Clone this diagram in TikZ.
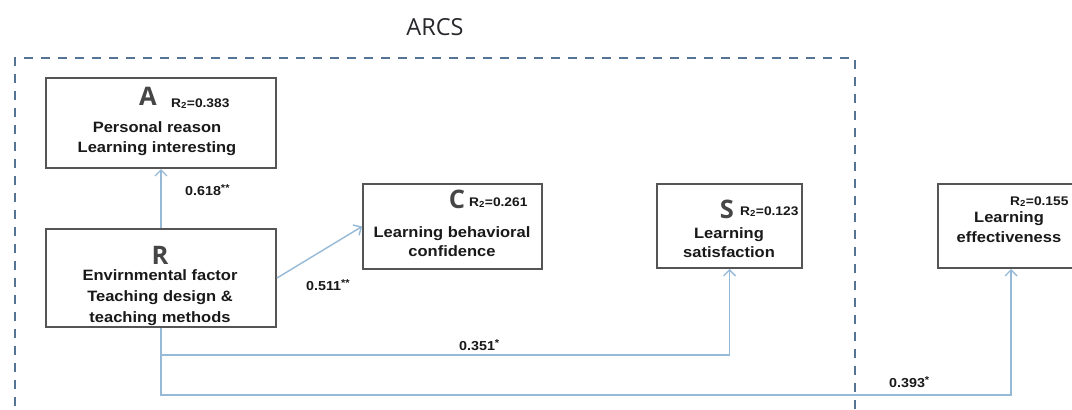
\documentclass[tikz,border=0pt]{standalone}
\usepackage{fontspec}
\setmainfont{Liberation Sans}[FakeStretch=1.1]
\newfontfamily\letterfont{Open Sans}
\newfontfamily\titlefont{Open Sans}
\usetikzlibrary{arrows.meta}
\definecolor{boxgray}{RGB}{85,85,85}
\definecolor{arrblue}{RGB}{150,185,215}
\definecolor{dashblue}{RGB}{85,115,148}
\definecolor{letgray}{RGB}{70,70,70}
\definecolor{txt}{RGB}{25,25,25}
\newcommand{\stars}[1]{\raisebox{3.5pt}{\fontsize{10}{10}\selectfont #1}}
\tikzset{
  box/.style={draw=boxgray, line width=2pt, fill=white, rectangle, inner sep=0pt},
  arr/.style={draw=arrblue, line width=1.4pt, -{Straight Barb[length=6pt,width=12pt,line width=1.4pt]}},
  dashbox/.style={draw=dashblue, line width=2.5pt, dash pattern=on 9pt off 8pt},
  body/.style={font=\bfseries\fontsize{15}{20}\selectfont, text=txt, align=center, inner sep=0pt},
  rsq/.style={font=\bfseries\fontsize{12.5}{14}\selectfont, text=txt, inner sep=0pt},
  letter/.style={font=\letterfont\bfseries\fontsize{25.5}{27}\selectfont, text=letgray, inner sep=0pt},
  coef/.style={font=\bfseries\fontsize{13}{15}\selectfont, text=txt, inner sep=0pt},
}
\begin{document}
\begin{tikzpicture}[x=1pt,y=-1pt]
\useasboundingbox (0,0) rectangle (1072,410);
\clip (0,0) rectangle (1072,410);
\fill[white] (0,0) rectangle (1072,410);
% title
\node[font=\titlefont\fontsize{23.5}{26}\selectfont, text={rgb,255:red,40;green,40;blue,45}, anchor=base, inner sep=0pt] (title) at (435,35) {ARCS};
% dashed frame
\draw[dashbox] (15,440) -- (15,58) -- (855,58) -- (855,440);
% boxes
\node[box, minimum width=230pt, minimum height=90pt] (A) at (161,123) {};
\node[box, minimum width=230pt, minimum height=98pt] (R) at (161,278) {};
\node[box, minimum width=179pt, minimum height=85pt] (C) at (452.5,226.5) {};
\node[box, minimum width=145pt, minimum height=84pt] (S) at (729.5,226) {};
\node[box, minimum width=146pt, minimum height=84pt] (E) at (1011,226) {};
% box texts (base anchor = baseline of the last line)
\node[letter, anchor=base] (Al) at (148,105) {A};
\node[rsq, anchor=base west] (Ar) at (171,107) {R\textsubscript{2}=0.383};
\node[body, anchor=base] (At) at (157,152) {Personal reason\\Learning interesting};

\node[letter, anchor=base] (Rl) at (160,264) {R};
\node[body, anchor=base, font=\bfseries\fontsize{15}{21}\selectfont] (Rt) at (160,322) {Envirnmental factor\\Teaching design \&\\teaching methods};

\node[letter, anchor=base] (Cl) at (457,208) {C};
\node[rsq, anchor=base west] (Cr) at (469,206) {R\textsubscript{2}=0.261};
\node[body, anchor=base, font=\bfseries\fontsize{15}{19}\selectfont] (Ct) at (452,256) {Learning behavioral\\confidence};

\node[letter, anchor=base] (Sl) at (727,218) {S};
\node[rsq, anchor=base west] (Sr) at (740,215) {R\textsubscript{2}=0.123};
\node[body, anchor=base, font=\bfseries\fontsize{15}{19}\selectfont] (St) at (729,257) {Learning\\satisfaction};

\node[rsq, anchor=base west] (Er) at (1010,205) {R\textsubscript{2}=0.155};
\node[body, anchor=base] (Et) at (1009,242) {Learning\\effectiveness};
% connectors
\coordinate (j1) at (161,355);
\coordinate (j2) at (161,395);
\draw[arr] (R.north) -- (A.south);
\draw[arr] (R.east) -- (C.west);
\draw[arr] (R.south) -- (j1) -| (S.south);
\draw[arr] (j1) -- (j2) -| (E.south);
% coefficients
\node[coef, anchor=base west] (c1) at (185,195) {0.618\stars{**}};
\node[coef, anchor=base west] (c2) at (306,290) {0.511\stars{**}};
\node[coef, anchor=base west] (c3) at (459,350) {0.351\stars{*}};
\node[coef, anchor=base west] (c4) at (889,387) {0.393\stars{*}};
\end{tikzpicture}
\end{document}
